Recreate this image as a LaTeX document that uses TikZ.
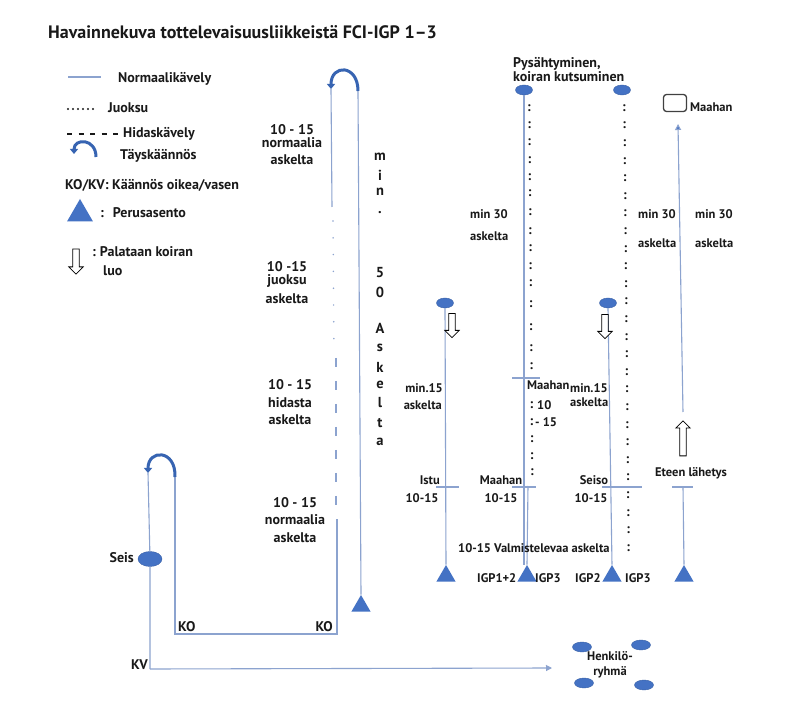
\documentclass[tikz,border=0pt]{standalone}
\usepackage{fontspec}
\setmainfont{PT Sans}
\usetikzlibrary{shapes.geometric,shapes.arrows,arrows.meta}
\definecolor{ln}{RGB}{140,163,207}
\definecolor{bl}{RGB}{68,114,196}
\definecolor{arcc}{RGB}{55,100,178}
\definecolor{tx}{RGB}{25,25,25}
\begin{document}
\begin{tikzpicture}[x=1pt,y=-1pt,
 every node/.style={text=tx},
 lbl/.style={font=\fontsize{14}{16}\selectfont\bfseries, inner sep=0pt},
 sml/.style={font=\fontsize{12.5}{14}\selectfont\bfseries, inner sep=0pt},
 wl/.style={draw=ln, line width=1.1pt},
 dotln/.style={draw=ln, line width=1.7pt, line cap=round, dash pattern=on 0pt off 16.8pt},
 dashln/.style={draw=ln, line width=1.1pt, dash pattern=on 9pt off 14pt},
 bdot/.style={ellipse, fill=bl, draw=bl!85!black, line width=0.4pt, minimum width=17pt, minimum height=10pt, inner sep=0pt},
 tri/.style={regular polygon, regular polygon sides=3, fill=bl, minimum size=22pt, inner sep=0pt},
 harrow/.style={single arrow, draw=black, line width=0.8pt, fill=white, minimum height=24pt, minimum width=14pt, single arrow head extend=4pt, single arrow head indent=0pt, inner sep=2.8pt},
 uturn/.style={draw=arcc, line width=3pt, -{Triangle[length=5pt,width=8pt]}},
 colon/.style={font=\fontsize{13.5}{14}\selectfont\bfseries, inner sep=0pt}]
\useasboundingbox (0,0) rectangle (796,711);
\fill[white] (0,0) rectangle (796,711);

% title
\node[anchor=west, inner sep=0pt, font=\fontsize{18}{20}\selectfont\bfseries] (title) at (48,32) {Havainnekuva tottelevaisuusliikkeistä FCI-IGP 1–3};

% legend
\coordinate (l1a) at (68,77); \coordinate (l1b) at (101,77);
\draw[wl] (l1a) -- (l1b);
\node[lbl, anchor=west] (lgn) at (118,79) {Normaalikävely};
\coordinate (l2a) at (68,109); \coordinate (l2b) at (93,109);
\draw[tx, line width=2.3pt, line cap=round, dash pattern=on 0pt off 5pt] (l2a) -- (l2b);
\node[lbl, anchor=west] (lgj) at (108,108) {Juoksu};
\coordinate (l3a) at (67,134); \coordinate (l3b) at (118,134);
\draw[tx, line width=1.4pt, dash pattern=on 5pt off 6.5pt] (l3a) -- (l3b);
\node[lbl, anchor=west] (lgh) at (123,134) {Hidaskävely};
\coordinate (l4a) at (96,157); \coordinate (l4b) at (74,154);
\draw[uturn] (l4a) .. controls (96,138) and (74,138) .. (l4b);
\node[lbl, anchor=west] (lgt) at (120,156) {Täyskäännös};
\node[lbl, anchor=west] (lgk) at (65,185) {KO/KV: Käännös oikea/vasen};
\node[tri, minimum size=30pt] (lgtri) at (80,214) {};
\node[lbl, anchor=west] (lgp) at (100,213) {:\hspace{9pt}Perusasento};
\node[harrow, shape border rotate=270, minimum height=25pt] (lgarr) at (76,260) {};
\node[lbl, anchor=west] (lgpa) at (92,252) {:\hspace{4pt}Palataan koiran};
\node[lbl, anchor=west] (lgpb) at (103,271) {luo};

% big U-turn
\coordinate (Ua) at (331,89);
\coordinate (Ub) at (332,207);
\coordinate (Uc) at (333,221);
\coordinate (Ud) at (334,354);
\coordinate (Ue) at (336,358);
\coordinate (Uf) at (336,517);
\coordinate (Ug) at (337,519);
\coordinate (Uh) at (337,634);
\coordinate (Ui) at (175,634);
\coordinate (Uj) at (175,477);
\coordinate (Ra) at (358,91);
\node[tri] (T0) at (361,606) {};
\draw[wl] (Ua) -- (Ub);
\draw[dotln] (Uc) -- (Ud);
\draw[dashln] (Ue) -- (Uf);
\draw[wl] (Ug) -- (Uh) -- (Ui) -- (Uj);
\draw[wl] (Ra) -- (T0.north);
\draw[uturn] (Ra) .. controls (358,64) and (331,64) .. (Ua);

% small U-turn and KV
\coordinate (Sa) at (148,473);
\node[bdot, minimum width=24pt, minimum height=15pt] (seis) at (150,559) {};
\coordinate (Kv) at (150,669);
\coordinate (kvend) at (552,668);
\draw[wl] (Sa) -- (seis) -- (Kv);
\draw[wl, -{Triangle[length=6pt,width=6pt]}] (Kv) -- (kvend);
\draw[uturn] (Uj) .. controls (176,449) and (148,449) .. (Sa);

\node[lbl, anchor=east] (lseis) at (134,558) {Seis};
\node[lbl, anchor=west] (lko1) at (178,627) {KO};
\node[lbl, anchor=east] (lko2) at (333,627) {KO};
\node[lbl, anchor=east] (lkv) at (148,665) {KV};

% U labels
\node[lbl] (a1) at (292,130) {10 - 15};
\node[lbl] (a2) at (292,143) {normaalia};
\node[lbl] (a3) at (292,160) {askelta};
\node[lbl] (b1) at (287,267) {10 -15};
\node[lbl] (b2) at (287,281) {juoksu};
\node[lbl] (b3) at (287,299) {askelta};
\node[lbl] (c1) at (290,385) {10 - 15};
\node[lbl] (c2) at (290,403) {hidasta};
\node[lbl] (c3) at (290,420) {askelta};
\node[lbl] (d1) at (295,503) {10 - 15};
\node[lbl] (d2) at (295,520) {normaalia};
\node[lbl] (d3) at (295,538) {askelta};

\foreach \c/\yy [count=\i] in {m/157,i/175,n/192,./213,5/273,0/292,A/328,s/348,k/367,e/385,l/403,t/423,a/442}
  \node[lbl, font=\fontsize{14.5}{15}\selectfont\bfseries] (v\i) at (380,\yy) {\c};

% right part: top ellipses and header
\node[anchor=west, align=left, inner sep=0pt, font=\fontsize{14}{14}\selectfont\bfseries] (hdr) at (513,70) {Pysähtyminen,\\koiran kutsuminen};
\node[bdot] (e1) at (524,90) {};
\node[bdot] (e2) at (622,90) {};
\node[bdot] (e3) at (445,303) {};
\node[bdot] (e4) at (608,303) {};

% bottom triangles
\node[tri] (T1) at (446,576) {};
\node[tri] (T2) at (527,576) {};
\node[tri] (T3) at (612,576) {};
\node[tri] (T4) at (684,576) {};

% vertical lines
\coordinate (m2) at (528,486);
\draw[wl] (e1.south) -- (T2.north -| e1.south);
\draw[wl] (m2) -- (T2.north);
\draw[wl] (e3.south) -- (T1.north);
\draw[wl] (e4.south) -- (T3.north);
\coordinate (t4top) at (683,487);
\draw[wl] (T4.north) -- (t4top);

% ticks
\coordinate (k1a) at (436,487); \coordinate (k1b) at (459,487);
\coordinate (k2a) at (512,378); \coordinate (k2b) at (540,378);
\coordinate (k3a) at (512,487); \coordinate (k3b) at (536,487);
\coordinate (k4a) at (602,487); \coordinate (k4b) at (642,487);
\coordinate (k5a) at (672,487); \coordinate (k5b) at (693,487);
\draw[wl] (k1a) -- (k1b);
\draw[wl] (k2a) -- (k2b);
\draw[wl] (k3a) -- (k3b);
\draw[wl] (k4a) -- (k4b);
\draw[wl] (k5a) -- (k5b);

% colon columns
\foreach \yy [count=\i] in {108,125,142,160,177,193,212,231,248,266,283,304,327,348,366,405,422,439,456,472}
  \node[colon] (ca\i) at ({529+0.008*(\yy-108)},\yy) {:};
\foreach \i in {0,...,25}
  \node[colon] (cb\i) at ({624+0.17*\i},{108+17.6*\i}) {:};

% hollow arrows
\node[harrow, shape border rotate=270] (h1) at (452,324) {};
\node[harrow, shape border rotate=270] (h2) at (605,325) {};
\node[harrow, shape border rotate=90, minimum height=35pt] (h3) at (683,440) {};

% forward send arrow
\coordinate (fa) at (683,412);
\node[draw=black!75, line width=1.3pt, rounded corners=3pt, minimum width=23pt, minimum height=17pt, inner sep=0pt] (sq) at (675,103) {};
\coordinate (fb) at (678,124);
\draw[wl, -{Triangle[length=6pt,width=6pt,fill=bl]}] (fa) -- (fb);
\node[sml, anchor=west] (sqt) at (690,107) {Maahan};

% labels right side
\node[sml, anchor=west] (m30a) at (470,214) {min 30};
\node[sml, anchor=west] (m30b) at (470,236) {askelta};
\node[sml, anchor=west] (m30c) at (638,214) {min 30};
\node[sml, anchor=west] (m30d) at (638,243) {askelta};
\node[sml, anchor=west] (m30e) at (695,214) {min 30};
\node[sml, anchor=west] (m30f) at (695,243) {askelta};
\node[sml, anchor=east] (m15a) at (443,388) {min.15};
\node[sml, anchor=east] (m15b) at (442,405) {askelta};
\node[sml, anchor=west] (m15c) at (570,388) {min.15};
\node[sml, anchor=west] (m15d) at (570,402) {askelta};
\node[sml, anchor=west] (mh1) at (527,385) {Maahan};
\node[sml, anchor=west] (n10) at (537,405) {10};
\node[sml, anchor=west] (n15) at (535,422) {- 15};
\node[sml, anchor=east] (istu) at (440,480) {Istu};
\node[sml] (istub) at (422,498) {10-15};
\node[sml] (mh2) at (501,480) {Maahan};
\node[sml] (mh2b) at (501,498) {10-15};
\node[sml] (seiso) at (594,480) {Seiso};
\node[sml] (seisob) at (591,498) {10-15};
\node[sml] (eteen) at (691,473) {Eteen lähetys};
\node[sml, anchor=west] (valm) at (458,548) {10-15 Valmistelevaa askelta};
\node[sml, anchor=west] (igp12) at (477,578) {IGP1+2};
\node[sml, anchor=west] (igp3a) at (535,578) {IGP3};
\node[sml, anchor=west] (igp2) at (575,578) {IGP2};
\node[sml, anchor=west] (igp3b) at (625,578) {IGP3};

% Henkilöryhmä
\node[bdot, minimum width=19pt] (g1) at (582,647) {};
\node[bdot, minimum width=19pt] (g2) at (641,645) {};
\node[bdot, minimum width=19pt] (g3) at (584,683) {};
\node[bdot, minimum width=19pt] (g4) at (644,685) {};
\node[sml, align=center, font=\fontsize{12.5}{15}\selectfont\bfseries] (grp) at (610,665) {Henkilö-\\ryhmä};
\end{tikzpicture}
\end{document}
